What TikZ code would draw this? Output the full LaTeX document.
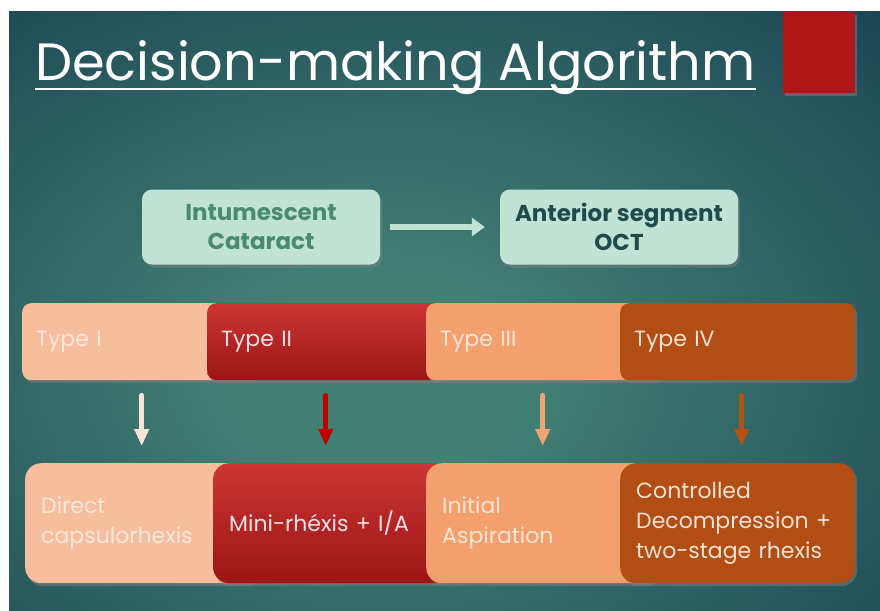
\documentclass[tikz,border=0pt]{standalone}
\usepackage{fontspec}
\setmainfont{Poppins}
\usetikzlibrary{arrows.meta,shadows}
\definecolor{bgc}{RGB}{66,128,116}
\definecolor{bge}{RGB}{22,60,78}
\definecolor{redsq}{RGB}{174,23,23}
\definecolor{mint}{RGB}{192,227,214}
\definecolor{minttxt}{RGB}{74,138,112}
\definecolor{darktxt}{RGB}{31,75,75}
\definecolor{peach}{RGB}{247,190,158}
\definecolor{peachtxt}{RGB}{252,232,220}
\definecolor{redtop}{RGB}{204,53,53}
\definecolor{redbot}{RGB}{155,21,21}
\definecolor{redtxt}{RGB}{246,226,226}
\definecolor{orange}{RGB}{243,160,110}
\definecolor{orangetxt}{RGB}{252,229,214}
\definecolor{brown}{RGB}{178,78,19}
\definecolor{browntxt}{RGB}{245,226,213}
\definecolor{arrA}{RGB}{249,227,214}
\definecolor{arrB}{RGB}{192,0,0}
\definecolor{arrC}{RGB}{242,163,111}
\definecolor{arrD}{RGB}{181,82,15}
\pgfdeclareradialshading{bgshade}{\pgfpoint{-4bp}{-6bp}}{color(0bp)=(bgc); color(8bp)=(bgc); color(45bp)=(bge); color(100bp)=(bge)}
\begin{document}
\begin{tikzpicture}[x=1pt,y=-1pt,
  shad/.style={drop shadow={shadow xshift=2pt,shadow yshift=-3pt,opacity=0.5}},
  topbox/.style={shad,rounded corners=10pt,fill=mint,minimum width=238pt,minimum height=75pt,
    align=center,inner sep=0pt,font=\bfseries\fontsize{23}{29}\selectfont},
  typebox/.style={shad,rounded corners=9pt,minimum height=77pt,inner xsep=14pt,
    text width=207pt,align=left,anchor=north west,font=\fontsize{22}{26}\selectfont},
  botbox/.style={shad,rounded corners=16pt,minimum height=120pt,inner xsep=16pt,
    text width=203pt,align=left,anchor=north west,font=\fontsize{22}{30}\selectfont},
  downarr/.style={-{Triangle[width=14pt,length=17pt]},line width=5pt,line cap=round,
    shorten <=15pt,shorten >=17pt},
  toparr/.style={-{Triangle[width=18pt,length=13pt]},line width=6pt,draw=mint,
    shorten <=10pt,shorten >=15pt}]
\useasboundingbox (0,0) rectangle (880,610);
\fill[white] (0,0) rectangle (880,610);
\shade[shading=bgshade] (9,12) rectangle (880,610);
% red square
\fill[redsq,shad] (783,12) rectangle (855,93);
% title
\node[anchor=base west,inner sep=0pt,text=white,font=\fontsize{52.5}{60}\selectfont] (title) at (35,80) {Decision-making Algorithm};
\draw[white,line width=1.8pt] ([yshift=-9pt]title.base west) -- ([yshift=-9pt]title.base east);
% top boxes
\node[topbox,text=minttxt] (c1) at (261,227) {Intumescent\\Cataract};
\node[topbox,text=darktxt] (c2) at (619,227) {Anterior segment\\OCT};
\draw[toparr] (c1) -- (c2);
% type row
\node[typebox,fill=peach,text=peachtxt] (t1) at (22,303) {Type I};
\node[typebox,top color=redtop,bottom color=redbot,text=redtxt] (t2) at (207,303) {Type II};
\node[typebox,fill=orange,text=orangetxt] (t3) at (426,303) {Type III};
\node[typebox,fill=brown,text=browntxt] (t4) at (620,303) {Type IV};
% bottom row
\node[botbox,fill=peach,text=peachtxt] (b1) at (25,463) {Direct\\capsulorhexis};
\node[botbox,top color=redtop,bottom color=redbot,text=redtxt] (b2) at (213,463) {Mini-rhéxis + I/A};
\node[botbox,fill=orange,text=orangetxt] (b3) at (426,463) {Initial\\Aspiration};
\node[botbox,fill=brown,text=browntxt] (b4) at (620,463) {Controlled\\Decompression +\\two-stage rhexis};
% arrows
\draw[downarr,draw=arrA] ([xshift=2pt]t1.south) -- ([xshift=2pt]t1.south |- b1.north);
\draw[downarr,draw=arrB] ([xshift=1pt]t2.south) -- ([xshift=1pt]t2.south |- b2.north);
\draw[downarr,draw=arrC] ([xshift=-1pt]t3.south) -- ([xshift=-1pt]t3.south |- b3.north);
\draw[downarr,draw=arrD] ([xshift=4pt]t4.south) -- ([xshift=4pt]t4.south |- b4.north);
\end{tikzpicture}
\end{document}
